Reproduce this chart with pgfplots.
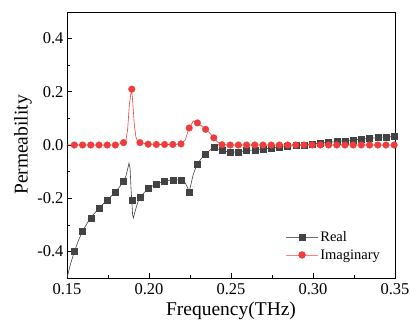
\documentclass[border=0pt]{standalone}
\usepackage{pgfplots}
\pgfplotsset{compat=1.18}
\usepackage{fontspec}
\setmainfont{Liberation Serif}
\definecolor{cReal}{RGB}{67,67,67}
\definecolor{cImag}{RGB}{240,60,60}
\definecolor{cRealL}{RGB}{110,110,110}
\definecolor{cImagL}{RGB}{250,130,130}
\begin{document}
\begin{tikzpicture}
\begin{axis}[
  scale only axis, width=328pt, height=266pt,
  xmin=0.15, xmax=0.35, ymin=-0.5, ymax=0.5,
  xtick={0.15,0.20,0.25,0.30,0.35},
  xticklabels={0.15,0.20,0.25,0.30,0.35},
  ytick={-0.4,-0.2,0,0.2,0.4},
  yticklabels={-0.4,-0.2,0.0,0.2,0.4},
  minor xtick={0.175,0.225,0.275,0.325},
  minor ytick={-0.3,-0.1,0.1,0.3},
  tick pos=left, tick align=inside,
  major tick length=5pt, minor tick length=3pt,
  tick style={black, line width=0.6pt},
  axis line style={line width=0.8pt},
  tick label style={font=\fontsize{16.5}{16.5}\selectfont},
  xticklabel style={yshift=-2pt},
  every axis x label/.style={at={(axis description cs:0.5,-0.124)},anchor=center},
  every axis y label/.style={at={(axis description cs:-0.134,0.5)},rotate=90,anchor=center},
  label style={font=\fontsize{19.5}{19.5}\selectfont},
  xlabel={Frequency(THz)}, ylabel={Permeability},
  legend style={draw=none, fill=none, at={(axis description cs:0.97,0.05)}, anchor=south east,
    font=\fontsize{14.5}{14.5}\selectfont, row sep=2pt},
  legend cell align=left,
  legend image code/.code={\draw[mark repeat=2,mark phase=2,#1] plot coordinates {(0cm,0cm) (0.56cm,0cm) (1.12cm,0cm)};},
]
% Real part, line
\addplot[cReal, line width=0.6pt, forget plot] coordinates {
(0.150,-0.500) (0.152,-0.450) (0.1545,-0.401) (0.157,-0.358) (0.1595,-0.324) (0.162,-0.297)
(0.1645,-0.274) (0.167,-0.255) (0.1695,-0.237) (0.172,-0.222) (0.1745,-0.207) (0.177,-0.192)
(0.1795,-0.177) (0.182,-0.158) (0.1845,-0.137) (0.186,-0.115) (0.187,-0.090) (0.1878,-0.068)
(0.1885,-0.090) (0.189,-0.160) (0.1895,-0.208) (0.190,-0.262) (0.1905,-0.274) (0.1915,-0.250)
(0.193,-0.218) (0.1945,-0.197) (0.197,-0.179) (0.1995,-0.164) (0.202,-0.154) (0.2045,-0.146)
(0.207,-0.141) (0.2095,-0.137) (0.212,-0.133) (0.2145,-0.131) (0.217,-0.131) (0.2195,-0.133)
(0.222,-0.142) (0.2235,-0.160) (0.2245,-0.176) (0.2255,-0.150) (0.227,-0.110) (0.2295,-0.071)
(0.232,-0.050) (0.2345,-0.034) (0.237,-0.020) (0.2395,-0.009) (0.242,-0.015) (0.2445,-0.021)
(0.2495,-0.027) (0.2545,-0.026) (0.2595,-0.021) (0.2645,-0.018) (0.2695,-0.015) (0.2745,-0.012)
(0.2795,-0.009) (0.2845,-0.005) (0.2895,-0.002) (0.2945,0.001) (0.2995,0.004) (0.3045,0.007)
(0.3095,0.010) (0.3145,0.013) (0.3195,0.016) (0.3245,0.019) (0.3295,0.022) (0.3345,0.025)
(0.3395,0.028) (0.3445,0.031) (0.3495,0.034) (0.350,0.034)
};
% Real part, markers
\addplot[cReal, only marks, mark=square*, mark size=3pt, forget plot] coordinates {
(0.1545,-0.401) (0.1595,-0.324) (0.1645,-0.274) (0.1695,-0.237) (0.1745,-0.207) (0.1795,-0.177)
(0.1845,-0.137) (0.1895,-0.208) (0.1945,-0.197) (0.1995,-0.164) (0.2045,-0.146) (0.2095,-0.137)
(0.2145,-0.131) (0.2195,-0.133) (0.2245,-0.176) (0.2295,-0.071) (0.2345,-0.034) (0.2395,-0.009)
(0.2445,-0.021) (0.2495,-0.027) (0.2545,-0.026) (0.2595,-0.021) (0.2645,-0.018) (0.2695,-0.015)
(0.2745,-0.012) (0.2795,-0.009) (0.2845,-0.005) (0.2895,-0.002) (0.2945,0.001) (0.2995,0.004)
(0.3045,0.007) (0.3095,0.010) (0.3145,0.013) (0.3195,0.016) (0.3245,0.019) (0.3295,0.022)
(0.3345,0.025) (0.3395,0.028) (0.3445,0.031) (0.3495,0.034)
};
% Imaginary part, line
\addplot[cImag, line width=0.6pt, forget plot] coordinates {
(0.150,0.000) (0.180,0.000) (0.1845,0.009) (0.186,0.020) (0.187,0.060) (0.188,0.150)
(0.1893,0.210) (0.190,0.170) (0.191,0.080) (0.192,0.030) (0.193,0.014) (0.1945,0.009)
(0.1995,0.003) (0.2045,0.002) (0.2145,0.002) (0.2195,0.004) (0.222,0.018) (0.2245,0.064)
(0.227,0.090) (0.2295,0.083) (0.232,0.072) (0.2345,0.059) (0.237,0.045) (0.2395,0.027)
(0.242,0.010) (0.2445,0.002) (0.2495,0.000) (0.350,0.000)
};
% Imaginary part, markers
\addplot[cImag, only marks, mark=*, mark size=3.3pt, forget plot] coordinates {
(0.1495,0) (0.1545,0) (0.1595,0) (0.1645,0) (0.1695,0) (0.1745,0) (0.1795,0) (0.1845,0.009)
(0.1895,0.210) (0.1945,0.009) (0.1995,0.003) (0.2045,0.002) (0.2095,0.002) (0.2145,0.002)
(0.2195,0.004) (0.2245,0.064) (0.2295,0.083) (0.2345,0.059) (0.2395,0.027) (0.2445,0.001)
(0.2495,0) (0.2545,0) (0.2595,0) (0.2645,0) (0.2695,0) (0.2745,0) (0.2795,0) (0.2845,0)
(0.2895,0) (0.2945,0) (0.2995,0) (0.3045,0) (0.3095,0) (0.3145,0) (0.3195,0) (0.3245,0)
(0.3295,0) (0.3345,0) (0.3395,0) (0.3445,0) (0.3495,0)
};
\addlegendimage{cRealL, line width=0.8pt, mark=square*, mark size=3pt, mark options={cReal}}
\addlegendentry{Real}
\addlegendimage{cImagL, line width=0.8pt, mark=*, mark size=3.3pt, mark options={cImag}}
\addlegendentry{Imaginary}
\end{axis}
\pgfresetboundingbox
\path (-67pt,-47pt) rectangle (344pt,278pt);
\end{tikzpicture}
\end{document}
